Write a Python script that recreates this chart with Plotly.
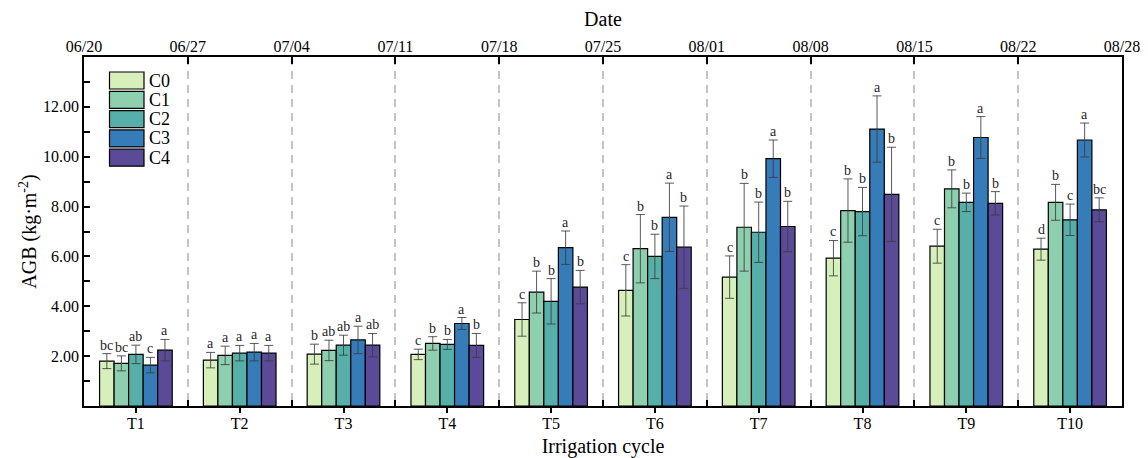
import plotly.graph_objects as go

cycles = ["T1", "T2", "T3", "T4", "T5", "T6", "T7", "T8", "T9", "T10"]
dates = ["06/20", "06/27", "07/04", "07/11", "07/18", "07/25", "08/01", "08/08", "08/15", "08/22", "08/28"]
series = ["C0", "C1", "C2", "C3", "C4"]
colors = ["#d6efbb", "#8ecfb0", "#56b0a9", "#367cb9", "#5a4a98"]

C0 = [1.80, 1.84, 2.08, 2.07, 3.47, 4.64, 5.17, 5.93, 6.41, 6.29]
C1 = [1.71, 2.03, 2.23, 2.51, 4.57, 6.31, 7.17, 7.84, 8.71, 8.17]
C2 = [2.07, 2.12, 2.44, 2.47, 4.20, 6.00, 6.97, 7.80, 8.17, 7.47]
C3 = [1.64, 2.16, 2.65, 3.31, 6.35, 7.57, 9.92, 11.11, 10.77, 10.67]
C4 = [2.24, 2.12, 2.44, 2.43, 4.77, 6.37, 7.20, 8.49, 8.13, 7.87]

E0 = [0.30, 0.31, 0.40, 0.21, 0.67, 1.03, 0.85, 0.71, 0.68, 0.44]
E1 = [0.30, 0.37, 0.41, 0.27, 0.84, 1.37, 1.76, 1.27, 0.76, 0.72]
E2 = [0.37, 0.31, 0.40, 0.20, 0.91, 0.89, 1.21, 0.97, 0.37, 0.63]
E3 = [0.31, 0.35, 0.55, 0.24, 0.67, 1.37, 0.75, 1.33, 0.84, 0.68]
E4 = [0.43, 0.31, 0.47, 0.48, 0.67, 1.65, 1.01, 1.89, 0.47, 0.48]

L0 = ["bc", "a", "b", "c", "c", "c", "c", "c", "c", "d"]
L1 = ["bc", "a", "ab", "b", "b", "b", "b", "b", "b", "b"]
L2 = ["ab", "a", "ab", "b", "b", "b", "b", "b", "b", "c"]
L3 = ["c", "a", "a", "a", "a", "a", "a", "a", "a", "a"]
L4 = ["a", "a", "ab", "b", "b", "b", "b", "b", "b", "bc"]

values = [C0, C1, C2, C3, C4]
errors = [E0, E1, E2, E3, E4]
letters = [L0, L1, L2, L3, L4]

FONT = "Liberation Serif"
W, H = 1148, 458
ML, MR, MT, MB = 84, 26, 57, 52
PW, PH = W - ML - MR, H - MT - MB

xpos = list(range(len(cycles)))
bargap = 0.3
bw = (1 - bargap) / len(series)

fig = go.Figure()
for i, name in enumerate(series):
    fig.add_trace(go.Bar(
        x=xpos, y=values[i], name=name, showlegend=False,
        marker=dict(color=colors[i], line=dict(color="black", width=1.2)),
        error_y=dict(type="data", array=errors[i], color="rgba(60,60,60,0.85)",
                     thickness=1, width=4.5),
    ))

annotations = []
for i in range(len(series)):
    off = (i - (len(series) - 1) / 2) * bw
    for j in xpos:
        annotations.append(dict(
            x=j + off, y=values[i][j] + errors[i][j], xref="x", yref="y",
            text=letters[i][j], showarrow=False, yanchor="bottom", yshift=-1,
            font=dict(family=FONT, size=14, color="#262626"),
        ))

# legend drawn as boxes (pixel geometry converted to paper units)
shapes = []
sw_x0, sw_x1 = 109.5, 144
sw_top0, sw_h, sw_step = 72, 17, 19.3
for i, name in enumerate(series):
    top = sw_top0 + i * sw_step
    y1 = (H - MB - top) / PH
    y0 = (H - MB - top - sw_h) / PH
    shapes.append(dict(type="rect", xref="paper", yref="paper",
                       x0=(sw_x0 - ML) / PW, x1=(sw_x1 - ML) / PW, y0=y0, y1=y1,
                       fillcolor=colors[i], line=dict(color="black", width=1.2)))
    annotations.append(dict(x=(sw_x1 + 3 - ML) / PW, y=(y0 + y1) / 2, xref="paper", yref="paper",
                            text=name, showarrow=False, xanchor="left", yanchor="middle",
                            font=dict(family=FONT, size=18, color="black")))

fig.add_trace(go.Scatter(x=[-0.5, 9.5], y=[0, 0], xaxis="x2", mode="markers",
                         marker=dict(opacity=0), showlegend=False, hoverinfo="skip"))

fig.update_layout(
    width=W, height=H,
    margin=dict(l=ML, r=MR, t=MT, b=MB, autoexpand=False),
    paper_bgcolor="white", plot_bgcolor="white",
    barmode="group", bargap=bargap, bargroupgap=0,
    font=dict(family=FONT, size=15, color="black"),
    annotations=annotations, shapes=shapes, showlegend=False,
    xaxis=dict(
        range=[-0.5, 9.5], tickmode="array", tickvals=xpos, ticktext=cycles,
        ticks="outside", ticklen=5, tickwidth=1.5, tickcolor="black",
        showline=True, linecolor="black", linewidth=1.5, showgrid=False, zeroline=False,
        tickfont=dict(family=FONT, size=16), automargin=False, ticklabelstandoff=-3,
        title=dict(text="Irrigation cycle", font=dict(family=FONT, size=20), standoff=9),
        minor=dict(tickmode="array", tickvals=[k + 0.5 for k in range(9)],
                   ticks="inside", ticklen=6, tickwidth=1.5, tickcolor="black", showgrid=False),
    ),
    xaxis2=dict(
        overlaying="x", side="top", range=[-0.5, 9.5], tickmode="array",
        tickvals=[k - 0.5 for k in range(11)], ticktext=dates,
        ticks="inside", ticklen=7, tickwidth=1.5, tickcolor="black",
        showline=True, linecolor="black", linewidth=1.5, automargin=False,
        showgrid=True, gridcolor="#c4c4c4", gridwidth=1.5, griddash="8px,6px",
        zeroline=False, tickfont=dict(family=FONT, size=16), ticklabelstandoff=-3,
        title=dict(text="Date", font=dict(family=FONT, size=20), standoff=6),
    ),
    yaxis=dict(
        range=[0, 14], tickmode="array", tickvals=[2, 4, 6, 8, 10, 12],
        ticktext=["2.00", "4.00", "6.00", "8.00", "10.00", "12.00"],
        ticks="inside", ticklen=6, tickwidth=1.5, tickcolor="black",
        showline=True, linecolor="black", linewidth=1.5, mirror=True, automargin=False,
        showgrid=False, zeroline=False, tickfont=dict(family=FONT, size=16),
        title=dict(text="AGB (kg·m<sup>-2</sup>)", font=dict(family=FONT, size=20), standoff=1),
        minor=dict(tickmode="array", tickvals=[1, 3, 5, 7, 9, 11, 13],
                   ticks="inside", ticklen=6, tickwidth=1.5, tickcolor="black", showgrid=False),
    ),
)

fig.write_html("out.html", config={"displayModeBar": False},
               post_script="document.body.style.margin='0';document.body.style.overflow='hidden';")
